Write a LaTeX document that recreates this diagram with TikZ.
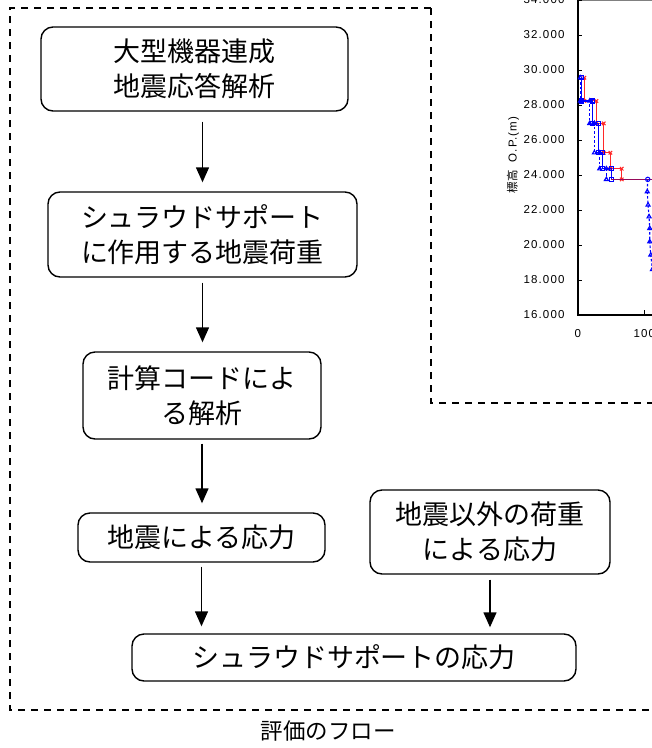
\documentclass[tikz,border=0pt]{standalone}
\usepackage{fontspec}
\newfontfamily\jp{Noto Sans CJK JP}
\newfontfamily\arl[LetterSpace=10]{Liberation Sans}
\usetikzlibrary{arrows.meta,calc,plotmarks}
\definecolor{redc}{RGB}{255,40,40}
\definecolor{bluec}{RGB}{0,0,255}
\definecolor{purc}{RGB}{150,10,90}
\begin{document}
\begin{tikzpicture}[x=1pt,y=-1pt,
  box/.style={draw, line width=1.4pt, rounded corners=12pt, align=center, inner sep=0pt,
    font=\jp\fontsize{27}{35}\selectfont},
  arr/.style={line width=1.4pt, -{Triangle[width=13pt,length=15pt]}},
  framedash/.style={line width=1.5pt, dash pattern=on 7pt off 6pt},
  ticklbl/.style={font=\arl\fontsize{11.5}{11.5}\selectfont}]
\useasboundingbox (0,0) rectangle (652,748);
\clip (0,0) rectangle (652,748);

% dashed frame
\draw[framedash] (431,8) -- (10,8) -- (10,710) -- (660,710);
\draw[framedash] (431,8) -- (431,403) -- (660,403);

% flow boxes
\node[box, minimum width=307pt, minimum height=84pt] (b1) at (194.5,69) {大型機器連成\\地震応答解析};
\node[box, minimum width=309pt, minimum height=85pt] (b2) at (202.5,234.5) {シュラウドサポート\\に作用する地震荷重};
\node[box, minimum width=238pt, minimum height=87pt] (b3) at (202,395.5) {計算コードによ\\る解析};
\node[box, minimum width=247pt, minimum height=49pt] (b4) at (201.5,537.5) {地震による応力};
\node[box, minimum width=240pt, minimum height=84pt] (b5) at (490,532) {地震以外の荷重\\による応力};
\node[box, minimum width=444pt, minimum height=47pt] (b6) at (354,657.5) {シュラウドサポートの応力};

% arrows
\draw[arr, shorten <=10pt, shorten >=9pt] (b1.south -| b2.north) -- (b2.north);
\draw[arr, shorten <=5pt, shorten >=9pt] (b2.south) -- (b2.south |- b3.north);
\draw[arr, shorten <=4pt, shorten >=9pt] (b3.south) -- (b3.south |- b4.north);
\draw[arr, shorten <=4pt, shorten >=7pt] (b4.south) -- (b4.south |- b6.north);
\draw[arr, shorten <=5pt, shorten >=6pt] (b5.south) -- (b5.south |- b6.north);

\node[font=\jp\fontsize{22.5}{26}\selectfont] (title) at (328,731) {評価のフロー};

% chart
\coordinate (O) at (577.7,315);
\draw[gray, line width=1pt] (577.7,0.5) -- (700,0.5);
\draw[line width=2pt] (577.7,0) -- (O) -- (700,315);
\foreach \v [evaluate=\v as \yy using {315-(\v-16)*17.5}] in {16,18,...,34}{
  \draw[line width=1pt] (577.7,\yy) -- (582,\yy);
  \node[ticklbl, anchor=east] at (568,\yy) {\v.000};
}
\draw[line width=1pt] (644.4,315) -- (644.4,310);
\node[ticklbl] (x0) at (577.7,334) {0};
\node[ticklbl] (x100) at (644.4,334) {100};
\node[rotate=90, font=\fontsize{11.5}{11.5}\selectfont] (ylab) at (513,155) {{\jp 標高}\hspace{8pt}{\arl O.P.(m)}};

\begin{scope}[shift={(O)}, x=0.667pt, y=17.5pt]
  \draw[redc, line width=1pt] plot[mark=x, mark size=2.5pt] coordinates
    {(10,13.56) (10,12.23) (28,12.23) (28,10.95) (39,10.95) (39,9.27) (49,9.27) (49,8.36) (66,8.36) (66,7.75)};
  \draw[bluec, line width=1.1pt] plot[mark=square, mark size=2pt] coordinates
    {(6,13.56) (6,12.23) (22,12.23) (22,10.95) (31,10.95) (31,9.27) (37,9.27) (37,8.36) (50,8.36) (50,7.75)};
  \draw[purc, line width=1.2pt] (50,7.75) -- (260,7.75);
  \draw[bluec, line width=1.1pt, dash pattern=on 2.5pt off 2pt] plot[mark=triangle, mark size=2.3pt, mark options={solid}] coordinates
    {(4,13.56) (4,12.23) (18,12.23) (18,10.95) (25,10.95) (25,9.27) (33,9.27) (33,8.36) (43,8.36) (43,7.75)};
  \draw[bluec, line width=1.1pt, dash pattern=on 2.5pt off 2pt] plot[mark=triangle, mark size=2.3pt, mark options={solid}] coordinates
    {(104.3,7.05) (105.5,6.29) (107,5.62) (108,4.95) (108,4.19) (109.5,3.43) (112,2.6) (118,1.8)};
  \draw[bluec, line width=1.1pt, dash pattern=on 2.5pt off 2pt] (105,7.75) -- (104.3,7.05);
  \draw[bluec, line width=1pt] (105,7.75) circle[radius=2.2pt];
\end{scope}
\end{tikzpicture}
\end{document}
